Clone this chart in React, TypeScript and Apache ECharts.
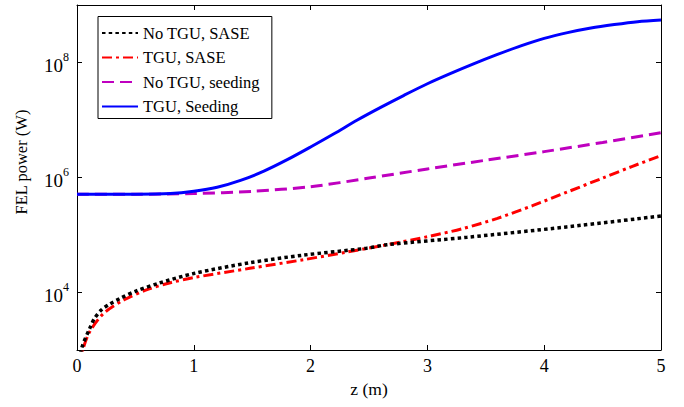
import React, { useEffect, useRef } from "react";
import * as echarts from "echarts";

// z positions (m) and FEL power (W) for each curve
const zNoTguSase = [0.02, 0.04, 0.11, 0.15, 0.21, 0.28, 0.37, 0.5, 0.7, 1.0, 1.48, 1.94, 2.48, 2.65, 3.34, 4.19, 5.0];
const pNoTguSase = [500, 1070, 2400, 3550, 5000, 6300, 7900, 10500, 14500, 21400, 33000, 44700, 58900, 67600, 91200, 138000, 214000];

const zTguSase = [0.03, 0.05, 0.11, 0.23, 0.4, 0.6, 0.8, 1.0, 1.48, 1.94, 2.3, 2.65, 3.0, 3.3, 3.6, 3.9, 4.2, 4.5, 4.75, 5.0];
const pTguSase = [500, 1000, 2090, 4370, 7400, 11200, 14800, 18200, 26300, 37200, 50100, 67600, 93300, 129000, 195000, 324000, 562000, 977000, 1550000, 2400000];

const zNoTguSeed = [0, 0.5, 1.0, 1.5, 2.0, 2.5, 3.0, 3.5, 4.0, 4.5, 5.0];
const pNoTguSeed = [513000, 513000, 525000, 575000, 692000, 977000, 1410000, 2000000, 2820000, 4070000, 6030000];

const zTguSeed = [0, 0.5, 0.8, 1.0, 1.2, 1.4, 1.6, 1.8, 2.0, 2.2, 2.4, 2.6, 2.8, 3.0, 3.2, 3.4, 3.6, 3.8, 4.0, 4.2, 4.4, 4.6, 4.8, 5.0];
const pTguSeed = [513000, 513000, 525000, 575000, 676000, 891000, 1290000, 2040000, 3390000, 5750000, 10000000, 16600000, 26900000, 42700000, 64600000, 95500000, 138000000, 195000000, 263000000, 331000000, 398000000, 457000000, 513000000, 550000000];

const seriesNames = ["No TGU, SASE", "TGU, SASE", "No TGU, seeding", "TGU, Seeding"];
const xTicks = [0, 1, 2, 3, 4, 5];
const yTicks = [1e4, 1e6, 1e8];
const xName = "z (m)";
const yName = "FEL power (W)";

const FONT = "Liberation Serif";

function pairs(z: number[], p: number[]) {
  return z.map((v, i) => [v, p[i]]);
}

export default function App() {
  const ref = useRef<HTMLDivElement>(null);
  useEffect(() => {
    document.body.style.margin = "0";
    const chart = echarts.init(ref.current!, null, { renderer: "svg" });
    const yLabelFmt = (v: number) => `{b|10}{s|${Math.round(Math.log10(v))}}`;
    const axisCommon = {
      axisLine: { show: true, onZero: false, lineStyle: { color: "#000", width: 1 } },
      splitLine: { show: false },
    };
    const lineSeries = (i: number, z: number[], p: number[], color: string, width: number, type: any, zl: number) => ({
      name: seriesNames[i],
      type: "line",
      data: pairs(z, p),
      showSymbol: false,
      symbol: "none",
      smooth: 0.3,
      clip: true,
      lineStyle: { color, width, type },
      itemStyle: { color },
      z: zl,
    });
    chart.setOption({
      animation: false,
      backgroundColor: "#fff",
      textStyle: { fontFamily: FONT },
      grid: { left: 77, right: 23, top: 5, bottom: 57 },
      graphic: [
        {
          type: "text",
          x: 21.5,
          y: 162,
          rotation: Math.PI / 2,
          style: {
            text: yName,
            font: `16.5px ${FONT}`,
            fill: "#000",
            align: "center",
            verticalAlign: "middle",
          },
        },
      ],
      legend: {
        orient: "vertical",
        left: 98,
        top: 16.5,
        data: seriesNames,
        itemWidth: 36,
        itemHeight: 14,
        itemGap: 6.5,
        padding: [7.5, 12, 3, 3],
        borderColor: "#000",
        borderWidth: 1,
        backgroundColor: "#fff",
        itemStyle: { color: "transparent", borderWidth: 0, opacity: 0 },
        textStyle: { fontFamily: FONT, fontSize: 16.5, color: "#000", lineHeight: 18 },
      },
      xAxis: [
        {
          type: "value",
          min: 0,
          max: 5,
          interval: 1,
          position: "bottom",
          name: xName,
          nameLocation: "middle",
          nameGap: 22,
          nameTextStyle: { fontFamily: FONT, fontSize: 17.5, color: "#000" },
          ...axisCommon,
          axisTick: { show: true, inside: true, length: 5, lineStyle: { color: "#000" }, customValues: xTicks },
          axisLabel: { fontFamily: FONT, fontSize: 18, color: "#000", margin: 7, customValues: xTicks },
        },
        {
          type: "value",
          min: 0,
          max: 5,
          interval: 1,
          position: "top",
          ...axisCommon,
          axisTick: { show: true, inside: true, length: 5, lineStyle: { color: "#000" }, customValues: xTicks },
          axisLabel: { show: false },
        },
      ],
      yAxis: [
        {
          type: "log",
          logBase: 10,
          min: 1e3,
          max: 1e9,
          position: "left",
          ...axisCommon,
          minorTick: { show: false },
          axisTick: { show: true, inside: true, length: 5, lineStyle: { color: "#000" }, customValues: yTicks },
          axisLabel: {
            customValues: yTicks,
            formatter: yLabelFmt,
            margin: 8,
            fontFamily: FONT,
            rich: {
              b: { fontFamily: FONT, fontSize: 19, color: "#000", verticalAlign: "bottom", lineHeight: 24 },
              s: { fontFamily: FONT, fontSize: 12, color: "#000", verticalAlign: "top", lineHeight: 24, padding: [0, 0, 13, 0] },
            },
          },
        },
        {
          type: "log",
          logBase: 10,
          min: 1e3,
          max: 1e9,
          position: "right",
          ...axisCommon,
          minorTick: { show: false },
          axisTick: { show: true, inside: true, length: 5, lineStyle: { color: "#000" }, customValues: yTicks },
          axisLabel: { show: false },
        },
      ],
      series: [
        lineSeries(0, zNoTguSase, pNoTguSase, "#000", 3.5, [3.5, 3.2], 4),
        lineSeries(1, zTguSase, pTguSase, "#ff0000", 3, [10, 4, 3, 4], 3),
        lineSeries(2, zNoTguSeed, pNoTguSeed, "#bf00bf", 3, [12, 6], 2),
        lineSeries(3, zTguSeed, pTguSeed, "#0000ff", 3, "solid", 5),
      ],
    });
    return () => chart.dispose();
  }, []);
  return <div ref={ref} style={{ width: 684, height: 407 }} />;
}
